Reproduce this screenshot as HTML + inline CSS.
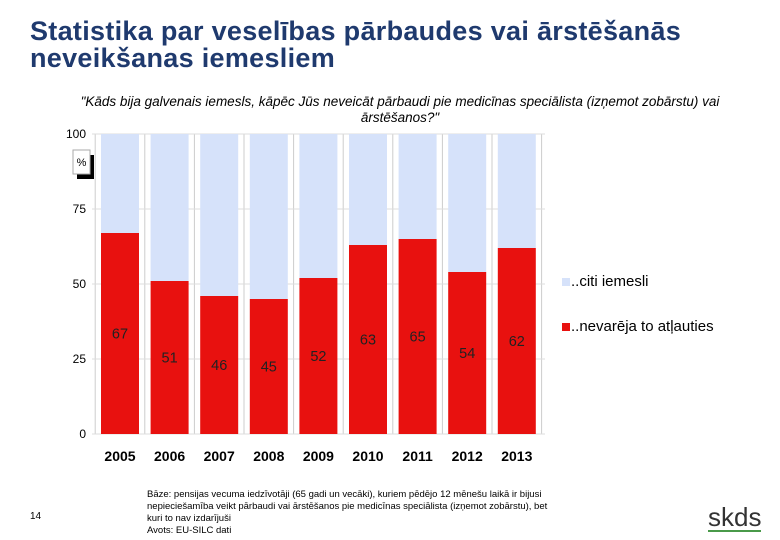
<!DOCTYPE html>
<html><head><meta charset="utf-8"><style>
body{margin:0;width:780px;height:540px;background:#fff;font-family:"Liberation Sans",sans-serif;position:relative;overflow:hidden}
.a{position:absolute}
</style></head><body>
<div class="a" style="left:30px;top:18px;font-size:27px;font-weight:bold;line-height:27px;color:#1f3a6e;letter-spacing:0.3px">Statistika par veselības pārbaudes vai ārstēšanās<br>neveikšanas iemesliem</div>
<div class="a" style="left:40px;top:94px;width:720px;text-align:center;font-size:13.5px;font-style:italic;line-height:16px;color:#000">"Kāds bija galvenais iemesls, kāpēc Jūs neveicāt pārbaudi pie medicīnas speciālista (izņemot zobārstu) vai ārstēšanos?"</div>
<svg class="a" style="left:0;top:0" width="780" height="540" id="chart"></svg>
<div class="a" style="left:30px;top:511px;font-size:10px">14</div>
<div class="a" style="left:147px;top:489px;font-size:9.5px;line-height:12px;width:416px">Bāze: pensijas vecuma iedzīvotāji (65 gadi un vecāki), kuriem pēdējo 12 mēnešu laikā ir bijusi nepieciešamība veikt pārbaudi vai ārstēšanos pie medicīnas speciālista (izņemot zobārstu), bet kuri to nav izdarījuši<br>Avots: EU-SILC dati</div>
<div class="a" style="left:708px;top:504px;font-size:26px;color:#333;border-bottom:2px solid #4a9a4a;line-height:26px">skds</div>
<script>
const years=["2005","2006","2007","2008","2009","2010","2011","2012","2013"];
const values=[67,51,46,45,52,63,65,54,62];
const yTicks=[0,25,50,75,100];
const svg=document.getElementById('chart');const NS='http://www.w3.org/2000/svg';
function y(v){return 434-v*3;}
function x(i){return 120+i*49.6;}
function mk(t,a,txt){const e=document.createElementNS(NS,t);for(const k in a)e.setAttribute(k,a[k]);if(txt!==undefined)e.textContent=txt;svg.appendChild(e);return e;}
for(let i=0;i<=years.length;i++){const g=mk('line',{x1:x(i)-24.8,x2:x(i)-24.8,y1:y(100),y2:y(0),stroke:'#ccc'});}
yTicks.forEach(t=>{const l=mk('line',{x1:92,x2:545,y1:y(t),y2:y(t),stroke:'#ddd'});
const tx=mk('text',{x:86,y:y(t)+4,'text-anchor':'end','font-size':12,fill:'#000'},t);});
years.forEach((yr,i)=>{const v=values[i];
const b=mk('rect',{x:x(i)-19,y:y(100),width:38,height:y(v)-y(100),fill:'#d6e2fa'});
const r=mk('rect',{x:x(i)-19,y:y(v),width:38,height:y(0)-y(v),fill:'#e8110f'});
const l=mk('text',{x:x(i),y:y(v/2)+5,'text-anchor':'middle','font-size':14.5,fill:'#222'},v);
const t=mk('text',{x:x(i),y:461,'text-anchor':'middle','font-size':14,'font-weight':'bold',fill:'#000'},yr);});
const sh=mk('rect',{x:77,y:155,width:17,height:24,fill:'#000'});
const ub=mk('rect',{x:73,y:150,width:17,height:24,fill:'#fff',stroke:'#aaa'});
const ut=mk('text',{x:81.5,y:166,'text-anchor':'middle','font-size':11},'%');
const la=mk('rect',{x:562,y:278,width:8,height:8,fill:'#d6e2fa'});
const lat=mk('text',{x:571,y:286,'font-size':15},'..citi iemesli');
const lb=mk('rect',{x:562,y:323,width:8,height:8,fill:'#e8110f'});
const lbt=mk('text',{x:571,y:331,'font-size':15},'..nevarēja to atļauties');
</script>
</body></html>
